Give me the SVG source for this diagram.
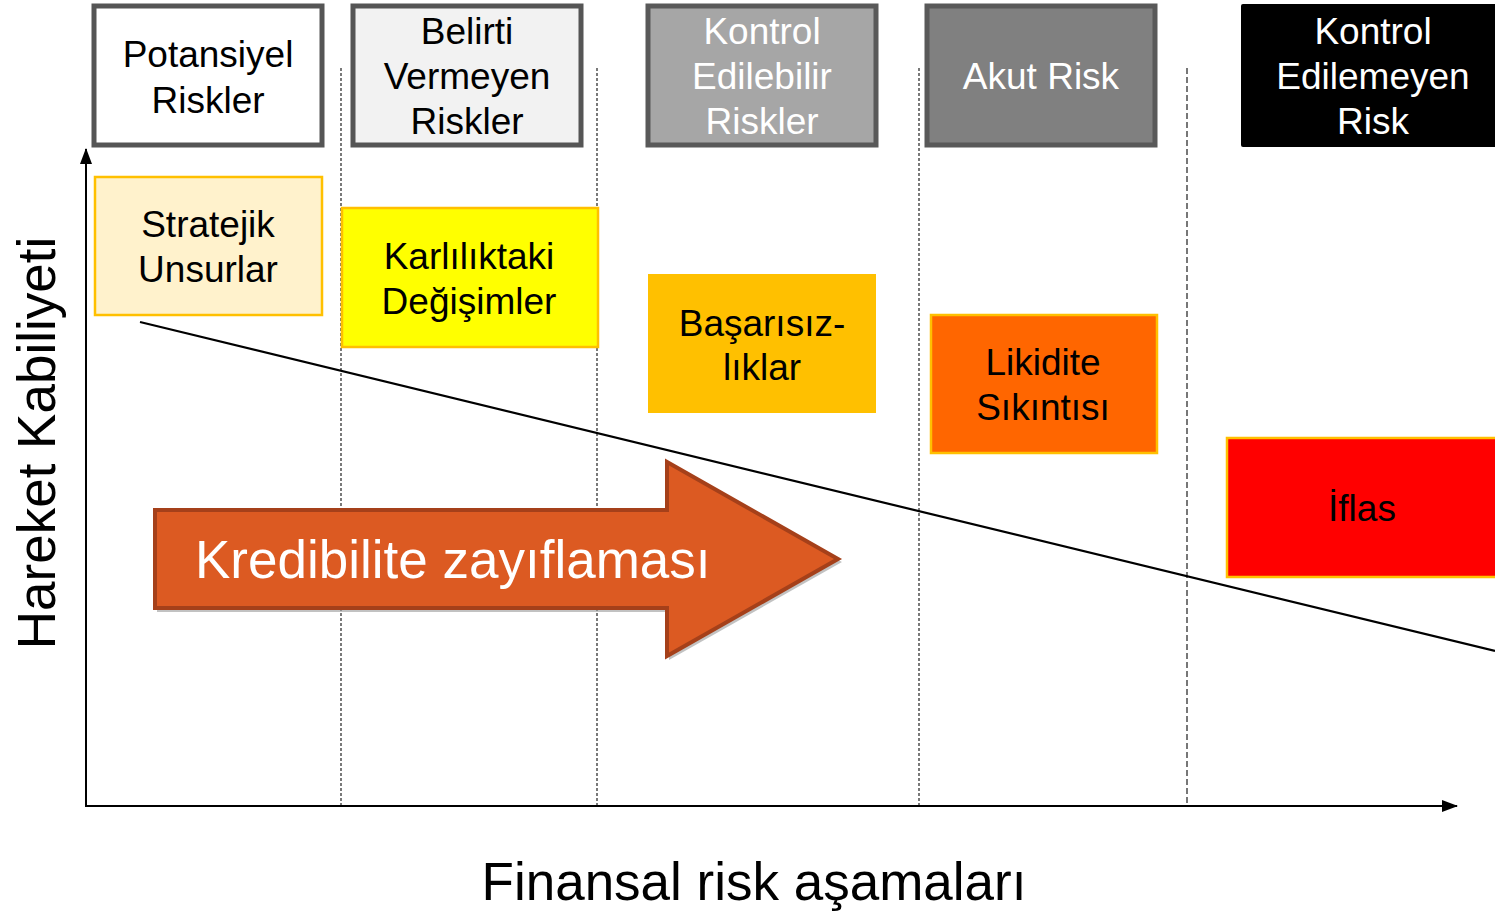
<svg xmlns="http://www.w3.org/2000/svg" width="1495" height="914" viewBox="0 0 1495 914">
<defs>
<style>
text{font-family:"Liberation Sans",Arial,sans-serif;text-anchor:middle}
.h{font-size:37px}
.w{fill:#ffffff}
.k{fill:#000000}
.hdr{stroke-width:5}
.sub{stroke:#ffc000;stroke-width:2.5}
.sep{stroke:#333;stroke-width:1.3;stroke-dasharray:3 2;fill:none}
.big{font-size:53px}
</style>
<marker id="ah" markerWidth="16" markerHeight="12" refX="15" refY="6" orient="auto" markerUnits="userSpaceOnUse">
<path d="M0,0 L16,6 L0,12 Z" fill="#000"/>
</marker>
</defs>
<rect width="1495" height="914" fill="#fff"/>

<g id="separators">
<line class="sep" x1="341" y1="68" x2="341" y2="806"/>
<line class="sep" x1="597" y1="68" x2="597" y2="806"/>
<line class="sep" x1="919" y1="68" x2="919" y2="806"/>
<line x1="1187" y1="68" x2="1187" y2="806" stroke="#777" stroke-width="2" stroke-dasharray="6 3"/>
</g>

<g id="axes">
<line x1="86" y1="806" x2="86" y2="149" stroke="#000" stroke-width="2" marker-end="url(#ah)"/>
<line x1="85" y1="806" x2="1457" y2="806" stroke="#000" stroke-width="2" marker-end="url(#ah)"/>
<line x1="140" y1="322" x2="1495" y2="651" stroke="#000" stroke-width="2.2"/>
</g>

<g id="h1"><rect class="hdr" x="94" y="6" width="228" height="139" fill="#fff" stroke="#555"/>
<text class="h k" x="208" y="67">Potansiyel</text><text class="h k" x="208" y="113">Riskler</text></g>
<g id="h2"><rect class="hdr" x="353" y="6" width="228" height="139" fill="#f2f2f2" stroke="#555"/>
<text class="h k" x="467" y="44">Belirti</text><text class="h k" x="467" y="89">Vermeyen</text><text class="h k" x="467" y="134">Riskler</text></g>
<g id="h3"><rect class="hdr" x="648" y="6" width="228" height="139" fill="#a6a6a6" stroke="#595959"/>
<text class="h w" x="762" y="44">Kontrol</text><text class="h w" x="762" y="89">Edilebilir</text><text class="h w" x="762" y="134">Riskler</text></g>
<g id="h4"><rect class="hdr" x="927" y="6" width="228" height="139" fill="#808080" stroke="#595959"/>
<text class="h w" x="1041" y="89">Akut Risk</text></g>
<g id="h5"><rect x="1241" y="4" width="260" height="143" fill="#000" rx="2"/>
<text class="h w" x="1373" y="44">Kontrol</text><text class="h w" x="1373" y="89">Edilemeyen</text><text class="h w" x="1373" y="134">Risk</text></g>

<g id="s1"><rect class="sub" x="95" y="177" width="227" height="138" fill="#fff2cc"/>
<text class="h k" x="208" y="237">Stratejik</text><text class="h k" x="208" y="282">Unsurlar</text></g>
<g id="s2"><rect class="sub" x="342" y="208" width="256" height="139" fill="#ffff00"/>
<text class="h k" x="469" y="269">Karlılıktaki</text><text class="h k" x="469" y="314">Değişimler</text></g>
<g id="s3"><rect x="648" y="274" width="228" height="139" fill="#ffc000"/>
<text class="h k" x="762" y="336">Başarısız-</text><text class="h k" x="762" y="380">lıklar</text></g>
<g id="s4"><rect class="sub" x="931" y="315" width="226" height="138" fill="#ff6600"/>
<text class="h k" x="1043" y="375">Likidite</text><text class="h k" x="1043" y="420">Sıkıntısı</text></g>
<g id="s5"><rect class="sub" x="1227" y="438" width="280" height="139" fill="#ff0000"/>
<text class="h k" x="1362" y="521">İflas</text></g>

<g id="arrow">
<polygon points="157,513 669,513 669,465 842,562 669,660 669,612 157,612" fill="#999" opacity="0.6"/>
<polygon points="155,510 667,510 667,462 838,559 667,656 667,608 155,608" fill="#dc5a22" stroke="#a5401a" stroke-width="4" stroke-linejoin="miter"/>
<text class="big w" x="195" y="578" style="text-anchor:start">Kredibilite zayıflaması</text>
</g>

<g id="labels">
<text class="big k" transform="translate(55,443) rotate(-90)">Hareket Kabiliyeti</text>
<text class="big k" x="754" y="900">Finansal risk aşamaları</text>
</g>
</svg>
